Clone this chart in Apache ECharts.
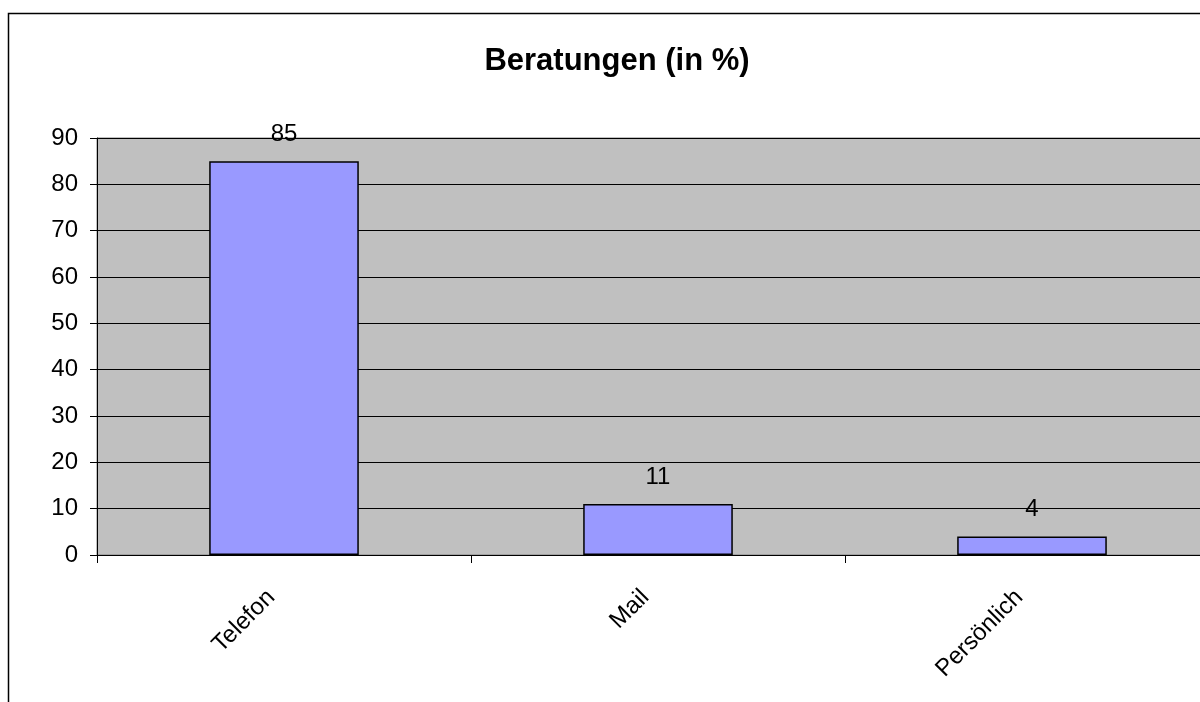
<!DOCTYPE html>
<html>
<head>
<meta charset="utf-8">
<script src="https://cdn.jsdelivr.net/npm/echarts@6/dist/echarts.min.js"></script>
<style>
  html, body { margin: 0; padding: 0; background: #fff; }
  #myChart { width: 1200px; height: 702px; }
</style>
</head>
<body>
<div id="myChart"></div>
<script>
// Daten
var categories = ['Telefon', 'Mail', 'Persönlich']
var values = [85, 11, 4]
var yMin = 0
var yMax = 90
var yStep = 10

var myChart = echarts.init(document.getElementById('myChart'))

var option = {
  animation: false,
  textStyle: { fontFamily: '"Liberation Sans", Arial, sans-serif', color: '#000' },
  title: {
    text: 'Beratungen (in %)',
    left: 612,
    top: 41,
    textAlign: 'center',
    textStyle: { fontSize: 31, fontWeight: 'bold', color: '#000', fontFamily: '"Liberation Sans", Arial, sans-serif' }
  },
  // Außenrahmen des Diagramms
  graphic: [{
    type: 'rect',
    shape: { x: 8.5, y: 13.5, width: 1400, height: 900 },
    style: { fill: 'none', stroke: '#000', lineWidth: 1.5 },
    silent: true
  }],
  grid: {
    left: 97,
    top: 138,
    width: 1122,
    bottom: 147,
    outerBoundsMode: 'none',
    show: true,
    backgroundColor: '#c0c0c0',
    borderColor: '#808080',
    borderWidth: 1
  },
  xAxis: {
    type: 'category',
    data: categories,
    axisLine: { lineStyle: { color: '#000', width: 1 } },
    axisTick: { show: true, length: 8, lineStyle: { color: '#000' } },
    axisLabel: {
      rotate: 45,
      fontSize: 24,
      color: '#000',
      margin: 26,
      padding: [0, 18, 0, 0],
      fontFamily: '"Liberation Sans", Arial, sans-serif'
    }
  },
  yAxis: {
    type: 'value',
    min: yMin,
    max: yMax,
    interval: yStep,
    axisLine: { show: true, lineStyle: { color: '#000', width: 1 } },
    axisTick: { show: true, length: 7, lineStyle: { color: '#000' } },
    axisLabel: {
      fontSize: 24,
      color: '#000',
      margin: 19,
      fontFamily: '"Liberation Sans", Arial, sans-serif'
    },
    splitLine: { show: true, lineStyle: { color: '#000', width: 1 } }
  },
  series: [{
    type: 'bar',
    data: values,
    barWidth: '40%',
    itemStyle: { color: '#9999ff', borderColor: '#000', borderWidth: 1.5 },
    label: {
      show: true,
      position: 'top',
      distance: 15,
      fontSize: 24,
      color: '#000',
      fontFamily: '"Liberation Sans", Arial, sans-serif'
    }
  }]
}

myChart.setOption(option)
</script>
</body>
</html>
